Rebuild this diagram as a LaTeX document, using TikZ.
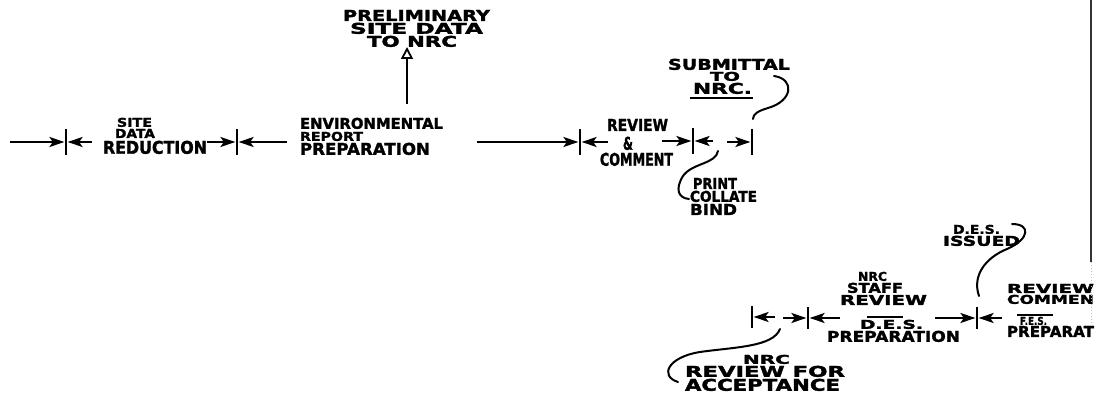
\documentclass[tikz,border=0pt]{standalone}
\usepackage{fontspec}
\setmainfont{DejaVu Sans}
\newfontfamily\handfont[FakeBold=1.8]{DejaVu Sans Bold}
\usepackage{graphicx}
\usetikzlibrary{arrows.meta}
\newcommand{\fitlbl}[3]{\resizebox{#1pt}{#2pt}{\handfont #3}}
\tikzset{
  lbl/.style={inner sep=0pt, outer sep=0pt, anchor=south west},
  evt/.style={rectangle, fill=black, inner sep=0pt, minimum width=2.8pt, minimum height=26pt},
  evtlow/.style={evt, minimum height=22pt},
  act/.style={line width=2.1pt, -{Stealth[length=15pt,width=10pt,inset=3.5pt]}},
  plainline/.style={line width=2.1pt},
  callout/.style={line width=2pt, line cap=round},
  milestone/.style={line width=1.8pt, -{Triangle[open,length=12pt,width=12pt]}},
}
\begin{document}
\begin{tikzpicture}[x=1pt,y=-1pt]
\useasboundingbox (0,0) rectangle (1096,395);
\clip (0,0) rectangle (1096,395);

% ---------- events (ticks) ----------
\node[evt] (E1) at (66,142) {};
\node[evt] (E2) at (237,142) {};
\node[evt] (E3) at (580,142) {};
\node[evt] (E4) at (693,141) {};
\node[evt] (E5) at (752,142) {};
\node[evtlow] (F1) at (752,317) {};
\node[evtlow] (F2) at (808,318) {};
\node[evtlow] (F3) at (977,318) {};

% ---------- activity lines ----------
\coordinate (a0) at (10,142);  \draw[act] (a0) -- (E1);
\coordinate (a1) at (92,142);  \draw[act] (a1) -- (E1);
\coordinate (b0) at (207,142); \draw[act] (b0) -- (E2);
\coordinate (b1) at (287,142); \draw[act] (b1) -- (E2);
\coordinate (c0) at (477,142); \draw[act] (c0) -- (E3);
\coordinate (c1) at (608,142); \draw[act] (c1) -- (E3);
\coordinate (d0) at (662,141); \draw[act] (d0) -- (E4);
\coordinate (d1) at (713,141); \draw[act] (d1) -- (E4);
\coordinate (e0) at (727,142); \draw[act] (e0) -- (E5);
\coordinate (f0) at (775,317); \draw[act] (f0) -- (F1);
\coordinate (g0) at (783,318); \draw[act] (g0) -- (F2);
\coordinate (g1) at (840,318); \draw[act] (g1) -- (F2);
\coordinate (h0) at (935,318); \draw[act] (h0) -- (F3);
\coordinate (h1) at (1002,318); \draw[act] (h1) -- (F3);

% ---------- labels ----------
\node[lbl] (prel1) at (343,21) {\fitlbl{147}{11}{PRELIMINARY}};
\node[lbl] (prel2) at (350,34) {\fitlbl{133}{11}{SITE DATA}};
\node[lbl] (prel3) at (367,47) {\fitlbl{90}{11}{TO NRC}};

\node[lbl] (sdr1) at (117,127) {\fitlbl{35}{9}{SITE}};
\node[lbl] (sdr2) at (115,138) {\fitlbl{40}{9}{DATA}};
\node[lbl] (sdr3) at (103,154) {\fitlbl{104}{13}{REDUCTION}};

\node[lbl] (env1) at (300,129) {\fitlbl{143}{11}{ENVIRONMENTAL}};
\node[lbl] (env2) at (300,141) {\fitlbl{63}{9}{REPORT}};
\node[lbl] (env3) at (300,155) {\fitlbl{130}{12}{PREPARATION}};

\node[lbl] (rc1) at (607,131) {\fitlbl{61}{12}{REVIEW}};
\node[lbl] (rc2) at (623,150) {\fitlbl{10}{13}{\&}};
\node[lbl] (rc3) at (600,166) {\fitlbl{73}{13}{COMMENT}};

\node[lbl] (sub1) at (668,70) {\fitlbl{122}{11}{SUBMITTAL}};
\node[lbl] (sub2) at (710,81) {\fitlbl{30}{9}{TO}};
\node[lbl] (sub3) at (693,94) {\fitlbl{59}{11}{NRC.}};
\draw[plainline] (690,98) -- (753,98);

\node[lbl] (pcb1) at (693,189) {\fitlbl{44}{11}{PRINT}};
\node[lbl] (pcb2) at (690,202) {\fitlbl{67}{11}{COLLATE}};
\node[lbl] (pcb3) at (690,215) {\fitlbl{47}{11}{BIND}};

\node[lbl] (desi1) at (953,234) {\fitlbl{47}{9}{D.E.S.}};
\node[lbl] (desi2) at (943,246) {\fitlbl{77}{10}{ISSUED}};

\node[lbl] (nsr1) at (858,281) {\fitlbl{29}{9}{NRC}};
\node[lbl] (nsr2) at (847,293) {\fitlbl{56}{10}{STAFF}};
\node[lbl] (nsr3) at (840,305) {\fitlbl{87}{10}{REVIEW}};
\draw[plainline] (867,317) -- (903,317);
\node[lbl] (desp1) at (860,329) {\fitlbl{63}{9}{D.E.S.}};
\node[lbl] (desp2) at (827,342) {\fitlbl{133}{11}{PREPARATION}};

\node[lbl] (rcr1) at (1007,293) {\fitlbl{87}{9}{REVIEW}};
\node[lbl] (rcr2) at (1007,304) {\fitlbl{87}{9}{COMMEN}};
\draw[plainline] (1017,315) -- (1053,315);
\node[lbl] (fes1) at (1020,325) {\fitlbl{27}{8}{F.E.S.}};
\node[lbl] (fes2) at (1007,337) {\fitlbl{87}{11}{PREPARAT}};

\node[lbl] (nra1) at (743,364) {\fitlbl{47}{9}{NRC}};
\node[lbl] (nra2) at (685,377) {\fitlbl{160}{11}{REVIEW FOR}};
\node[lbl] (nra3) at (685,391) {\fitlbl{155}{12}{ACCEPTANCE}};

% ---------- milestone arrow ----------
\coordinate (p0) at (407,104);
\draw[milestone] (p0) -- (p0 |- prel3.south);

% ---------- callout curves ----------
\coordinate (s0) at (774,76);
\draw[callout] (s0) .. controls (795,79) and (793,101) .. (768,108)
                    .. controls (758,111) and (753,114) .. (753,119);
\coordinate (q0) at (718,151);
\draw[callout] (q0) .. controls (716,164) and (692,163) .. (683,176)
                    .. controls (675,189) and (678,198) .. (689,199);
\coordinate (r0) at (979,296);
\draw[callout] (r0) .. controls (972,276) and (985,258) .. (1007,249)
                    .. controls (1030,239) and (1031,224) .. (1012,224);
\coordinate (t0) at (780,329);
\draw[callout] (t0) .. controls (773,347) and (735,347) .. (700,352)
                    .. controls (668,357) and (659,376) .. (678,382);

% ---------- sheet edge ----------
\draw[line width=1.2pt, black!80] (1091,0) -- (1091,262);
\draw[line width=1pt, black!25, dotted] (1091,262) -- (1091,325);
\end{tikzpicture}
\end{document}
